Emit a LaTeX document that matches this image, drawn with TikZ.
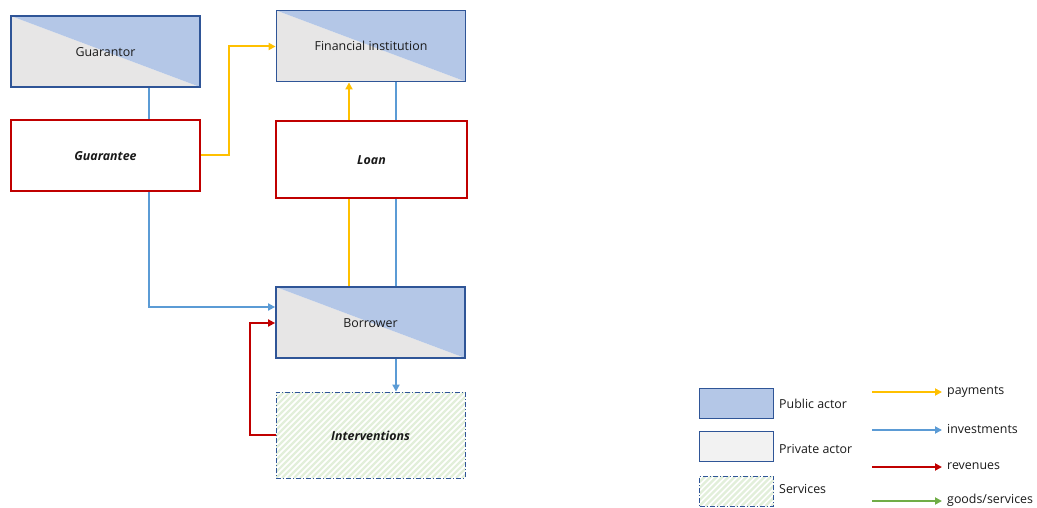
\documentclass[tikz,border=0pt]{standalone}
\usepackage{fontspec}
\setmainfont{Open Sans}
\usetikzlibrary{arrows.meta,calc}
\definecolor{pubfill}{HTML}{B4C7E7}
\definecolor{privfill}{HTML}{E7E6E6}
\definecolor{privlegend}{HTML}{F2F2F2}
\definecolor{actorline}{HTML}{2F5597}
\definecolor{keyred}{HTML}{C00000}
\definecolor{flowyellow}{HTML}{FFC000}
\definecolor{flowblue}{HTML}{5B9BD5}
\definecolor{flowred}{HTML}{C00000}
\definecolor{flowgreen}{HTML}{70AD47}
\definecolor{hatchgreen}{HTML}{E2EFDA}
\definecolor{txt}{HTML}{1A1A1A}
\newcommand{\labelfont}{\fontsize{12.4}{14}\selectfont}
\tikzset{
  every node/.style={text=txt,font=\labelfont},
  boxsize/.style={minimum width=189pt,minimum height=71pt,inner sep=0pt,text height=12pt,text depth=2pt},
  actor/.style={boxsize,draw=actorline,line width=1.8pt,
    path picture={
      \fill[privfill] (path picture bounding box.north west) -- (path picture bounding box.south east) -- (path picture bounding box.south west) -- cycle;
      \fill[pubfill] (path picture bounding box.north west) -- (path picture bounding box.north east) -- (path picture bounding box.south east) -- cycle;}},
  keybox/.style={boxsize,draw=keyred,line width=1.8pt,fill=white,font=\labelfont\bfseries\itshape},
  hatched/.style={fill=white,draw=actorline,line width=0.8pt,dash pattern=on 5pt off 2pt on 1pt off 2pt,
    path picture={
      \foreach \i in {-120,-114,...,200}
        \draw[solid,hatchgreen,line width=2.2pt] ($(path picture bounding box.south west)+(\i pt,0)$) -- ++(100pt,100pt);}},
  servicebox/.style={boxsize,hatched,font=\labelfont\bfseries\itshape},
  flow/.style={line width=2pt},
  tip/.style={-{Triangle[length=7pt,width=7pt]}},
  legbox/.style={minimum width=74pt,minimum height=30pt,inner sep=0pt},
  legtext/.style={anchor=west,inner sep=0pt},
}
\begin{document}
\begin{tikzpicture}[x=1pt,y=-1pt]
\useasboundingbox (0,0) rectangle (1037,508);

% actors and key instruments
\node[actor] (guarantor) at (105.5,51.5) {Guarantor};
\node[actor] (fin) at (371,46) {Financial institution};
\node[keybox] (guarantee) at (105.5,155.5) {Guarantee};
\node[keybox,minimum width=191pt,minimum height=77pt] (loan) at (371.5,159.5) {Loan};
\node[actor] (borrower) at (370.5,322.5) {Borrower};
\node[servicebox,minimum height=86pt] (interv) at (370.5,435) {Interventions};

% x positions of the vertical flows
\coordinate (xg) at (149,0);
\coordinate (xy) at (349,0);
\coordinate (xb) at (396,0);
\coordinate (xr) at (250,0);
\coordinate (xp) at (229,0);

% investments: guarantor -> guarantee -> borrower
\draw[flow,flowblue] (guarantor.south -| xg) -- (guarantee.north -| xg);
\draw[flow,flowblue,tip] (guarantee.south -| xg) |- ($(borrower.west)+(0,-15.5)$);
% payments: guarantee -> financial institution
\draw[flow,flowyellow,tip] (guarantee.east) -- (xp |- guarantee.east) |- ($(fin.west)+(0,0.5)$);
% payments: borrower -> loan -> financial institution
\draw[flow,flowyellow] (borrower.north -| xy) -- (loan.south -| xy);
\draw[flow,flowyellow,tip] (loan.north -| xy) -- (fin.south -| xy);
% investments: financial institution -> loan -> borrower -> interventions
\draw[flow,flowblue] (fin.south -| xb) -- (loan.north -| xb);
\draw[flow,flowblue] (loan.south -| xb) -- (borrower.north -| xb);
\draw[flow,flowblue,tip] (borrower.south -| xb) -- (interv.north -| xb);
% revenues: interventions -> borrower
\draw[flow,flowred,tip] (interv.west) -- (xr |- interv.west) |- ($(borrower.west)+(0,0.5)$);

% legend: actors
\node[legbox,draw=actorline,line width=1.8pt,fill=pubfill] (lpub) at (736.5,403.5) {};
\node[legtext] (lpubt) at (779,404) {Public actor};
\node[legbox,draw=actorline,line width=1.8pt,fill=privlegend] (lpriv) at (736.5,446.5) {};
\node[legtext] (lprivt) at (779,449) {Private actor};
\node[legbox,hatched] (lserv) at (736.5,491) {};
\node[legtext] (lservt) at (779,489) {Services};

% legend: flows
\coordinate (a1) at (872,392); \coordinate (b1) at (942,392);
\coordinate (a2) at (872,430); \coordinate (b2) at (942,430);
\coordinate (a3) at (872,467); \coordinate (b3) at (942,467);
\coordinate (a4) at (872,501); \coordinate (b4) at (942,501);
\draw[flow,flowyellow,tip] (a1) -- (b1);
\draw[flow,flowblue,tip] (a2) -- (b2);
\draw[flow,flowred,tip] (a3) -- (b3);
\draw[flow,flowgreen,tip] (a4) -- (b4);
\node[legtext] (l1) at (947,392) {payments};
\node[legtext] (l2) at (947,429) {investments};
\node[legtext] (l3) at (947,466) {revenues};
\node[legtext] (l4) at (947,500) {goods/services};
\end{tikzpicture}
\end{document}
